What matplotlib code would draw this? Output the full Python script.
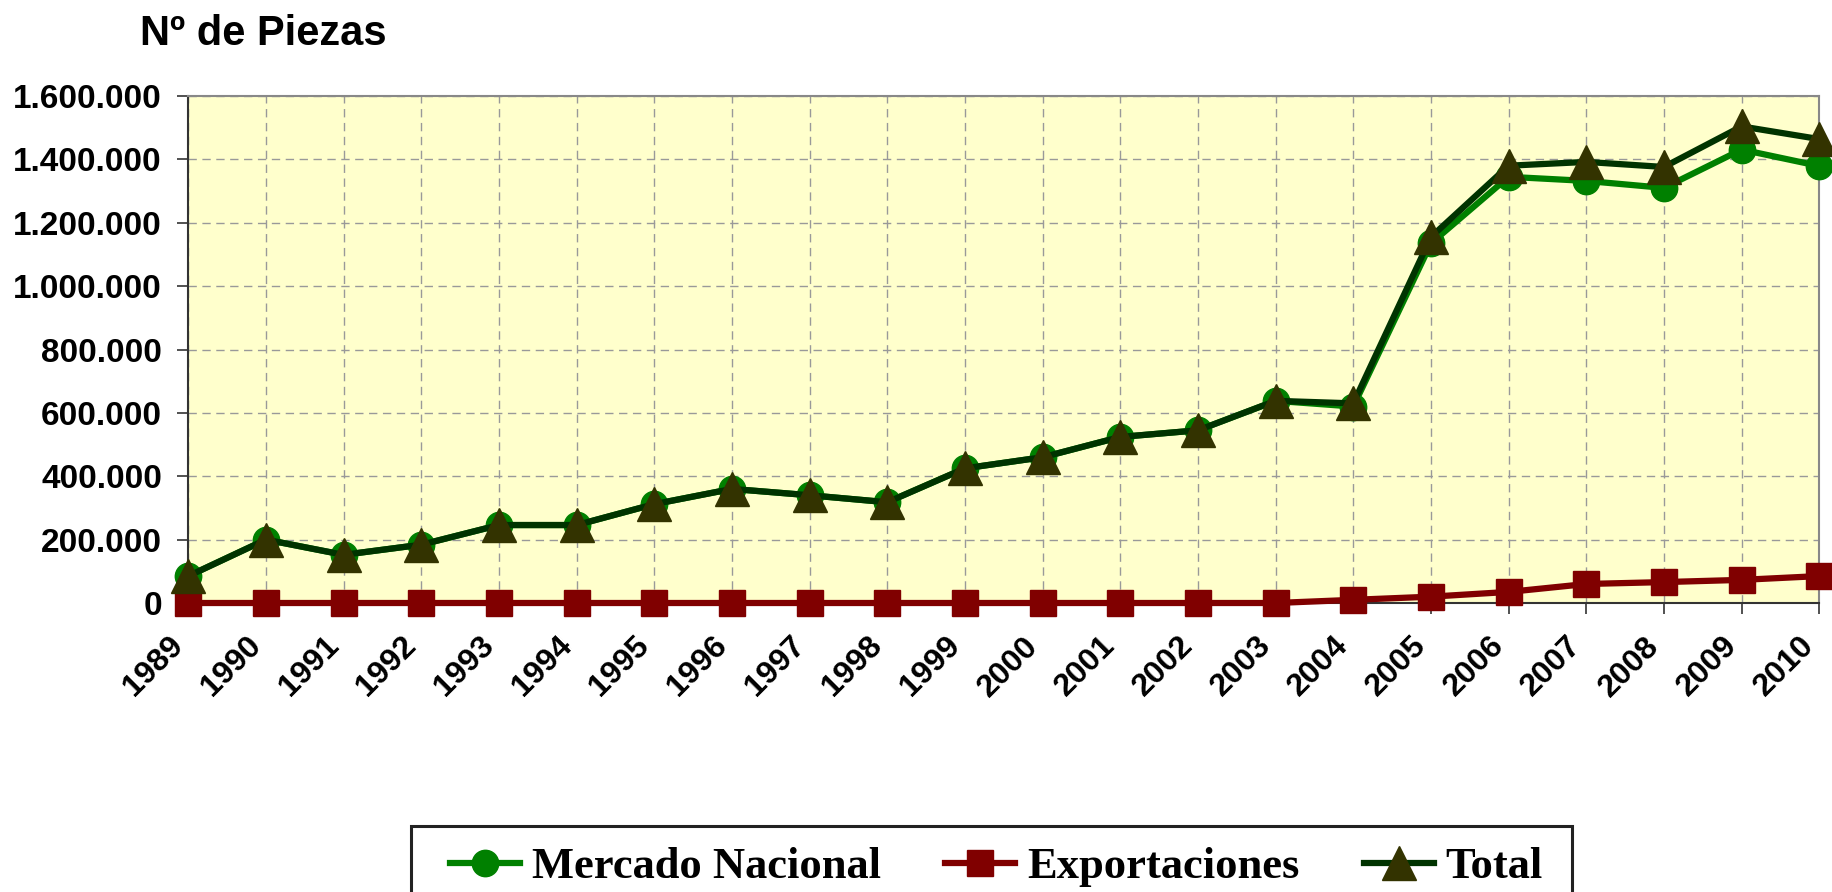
import numpy as np
import matplotlib.pyplot as plt
from matplotlib.patches import Rectangle
from matplotlib.transforms import ScaledTranslation

years = [str(y) for y in range(1989, 2011)]
mercado = [85000, 200000, 152000, 184000, 246000, 246000, 312000, 360000,
           340000, 318000, 425000, 460000, 524000, 545000, 638000, 620000,
           1135000, 1345000, 1332000, 1310000, 1431000, 1379000]
export = [0, 0, 0, 0, 0, 0, 0, 0, 0, 0, 0, 0, 0, 0, 0, 10000,
          20000, 35000, 60000, 66000, 73000, 85000]
total = [85000, 200000, 152000, 184000, 246000, 246000, 312000, 360000,
         340000, 318000, 425000, 460000, 524000, 545000, 638000, 630000,
         1155000, 1380000, 1392000, 1376000, 1504000, 1464000]
y_ticks = [0, 200000, 400000, 600000, 800000, 1000000, 1200000, 1400000, 1600000]
y_labels = ["0", "200.000", "400.000", "600.000", "800.000", "1.000.000",
            "1.200.000", "1.400.000", "1.600.000"]

W, H = 1832, 892
fig = plt.figure(figsize=(W / 100, H / 100), dpi=100)
ax = fig.add_axes([188.3 / W, 1 - 603 / H, (1819.3 - 188.3) / W, (603 - 96) / H])
ax.set_facecolor("#FFFFCC")

x = np.arange(len(years))
ax.plot(x, mercado, color="#008000", lw=4.5, marker="o", ms=19,
        mfc="#008000", mec="#008000", label="Mercado Nacional", zorder=3, clip_on=False)
ax.plot(x, export, color="#800000", lw=4.5, marker="s", ms=19,
        mfc="#800000", mec="#800000", label="Exportaciones", zorder=4, clip_on=False)
ax.plot(x, total, color="#003300", lw=4.5, marker="^", ms=24,
        mfc="#333300", mec="#333300", label="Total", zorder=5, clip_on=False)

ax.set_xlim(0, len(years) - 1)
ax.set_ylim(0, 1600000)
ax.set_yticks(y_ticks)
ax.set_yticklabels(y_labels)
ax.set_xticks(x)
ax.set_xticklabels(years)

ax.grid(True, color="#999999", linestyle=(0, (6, 4)), lw=1.0, zorder=1)
for side in ["top", "right"]:
    ax.spines[side].set_color("#888888")
    ax.spines[side].set_linewidth(1.5)
for side in ["left", "bottom"]:
    ax.spines[side].set_color("#333333")
    ax.spines[side].set_linewidth(1.5)

ax.tick_params(axis="y", length=8, width=1.2, color="#333333", pad=11,
               labelsize=24)
ax.tick_params(axis="x", length=8, width=1.2, color="#333333", pad=12,
               labelsize=23)
for lab in ax.get_yticklabels():
    lab.set_fontweight("bold")
    lab.set_family("Liberation Sans")
for lab in ax.get_xticklabels():
    lab.set_fontweight("bold")
    lab.set_family("Liberation Sans")
    lab.set_rotation(45)
    lab.set_ha("right")
    lab.set_va("top")
    lab.set_rotation_mode("anchor")
    lab.set_transform(lab.get_transform() + ScaledTranslation(-0.2, 0, fig.dpi_scale_trans))

fig.text(140 / W, 1 - 45 / H, "Nº de Piezas", fontsize=30, fontweight="bold",
         family="Liberation Sans", va="baseline", ha="left")

# legend box runs off the bottom edge, as in the original
fig.patches.append(Rectangle((411 / W, -0.05), (1572 - 411) / W, 0.05 + 1 - 826 / H,
                             transform=fig.transFigure, facecolor="white",
                             edgecolor="#222222", lw=2.2, zorder=0))
leg = fig.legend(loc="center left", bbox_to_anchor=(450 / W, 1 - 867 / H),
                 ncol=3, frameon=False,
                 prop={"family": "Liberation Serif", "weight": "bold", "size": 32},
                 handlelength=1.58, handletextpad=0.26, columnspacing=1.45,
                 borderpad=0, borderaxespad=0)

fig.savefig("out.png", dpi=100)
